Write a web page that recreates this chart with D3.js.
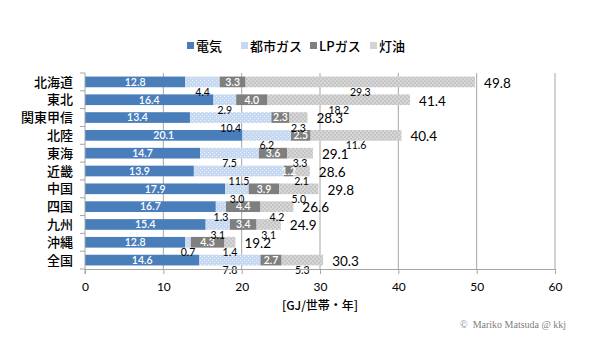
<!DOCTYPE html>
<html><head><meta charset="utf-8">
<script src="https://cdn.jsdelivr.net/npm/d3@7"></script>
<style>body{margin:0;background:#fff}svg{display:block}</style>
</head><body><svg id="c" width="600" height="349"></svg>
<script>
const categories=["北海道","東北","関東甲信","北陸","東海","近畿","中国","四国","九州","沖縄","全国"];
const seriesNames=["電気","都市ガス","LPガス","灯油"];
const electricity=[12.8,16.4,13.4,20.1,14.7,13.9,17.9,16.7,15.4,12.8,14.6];
const cityGas=[4.4,2.9,10.4,6.2,7.5,11.5,3.0,1.3,3.1,0.7,7.8];
const lpGas=[3.3,4.0,2.3,2.5,3.6,1.2,3.9,4.4,3.4,4.3,2.7];
const kerosene=[29.3,18.2,2.3,11.6,3.3,2.1,5.0,4.2,3.1,1.4,5.3];
const totals=[49.8,41.4,28.3,40.4,29.1,28.6,29.8,26.6,24.9,19.2,30.3];
const xTicks=[0,10,20,30,40,50,60];
const axisTitle="[GJ/世帯・年]";
const credit="©  Mariko Matsuda @ kkj";

const svg=d3.select("#c");
const defs=svg.append("defs");
const p1=defs.append("pattern").attr("id","pGas").attr("width",4).attr("height",4).attr("patternUnits","userSpaceOnUse");
p1.append("rect").attr("width",4).attr("height",4).attr("fill","#c6d9f0");
p1.append("rect").attr("x",0).attr("y",0).attr("width",1).attr("height",1).attr("fill","#e8f0fa");
p1.append("rect").attr("x",2).attr("y",2).attr("width",1).attr("height",1).attr("fill","#e8f0fa");
const p2=defs.append("pattern").attr("id","pKer").attr("width",4).attr("height",4).attr("patternUnits","userSpaceOnUse");
p2.append("rect").attr("width",4).attr("height",4).attr("fill","#d6d6d6");
p2.append("rect").attr("x",0).attr("y",0).attr("width",2).attr("height",2).attr("fill","#c6c6c6");
p2.append("rect").attr("x",2).attr("y",2).attr("width",2).attr("height",2).attr("fill","#c6c6c6");

const fills=["#4a7ebb","url(#pGas)","#7f7f7f","url(#pKer)"];
const legendFills=["#4a7ebb","#c6d9f0","#7f7f7f","#d4d4d4"];
const jp="'Noto Sans CJK JP','Noto Sans',sans-serif";
const num="Lato,'Open Sans',sans-serif";

const L=85,R=555,T=73,B=269;
const x=d3.scaleLinear().domain([0,60]).range([L,R]);
const y=d3.scaleBand().domain(categories).range([T,B]).paddingInner(0.4).paddingOuter(0.2);

svg.append("g").selectAll("line").data(xTicks.slice(1)).join("line")
 .attr("x1",d=>x(d)).attr("x2",d=>x(d)).attr("y1",T).attr("y2",B)
 .attr("stroke","#a6a6a6").attr("stroke-width",1);

const data=[electricity,cityGas,lpGas,kerosene];
const rows=categories.map((c,i)=>{let s=0;return data.map((arr,k)=>{const o={c,k,v:arr[i],x0:s,x1:s+arr[i]};s+=arr[i];return o;});});
const flat=rows.flat();
const bw=y.bandwidth();
svg.append("g").selectAll("rect").data(flat).join("rect")
 .attr("x",d=>x(d.x0)).attr("width",d=>x(d.x1)-x(d.x0))
 .attr("y",d=>y(d.c)).attr("height",bw).attr("fill",d=>fills[d.k]);

svg.append("g").selectAll("text").data(flat.filter(d=>d.k===0||d.k===2)).join("text")
 .attr("x",d=>x((d.x0+d.x1)/2)).attr("y",d=>y(d.c)+bw/2).attr("dy","0.36em")
 .attr("text-anchor","middle").attr("fill","#fff").attr("font-family",num).attr("font-size",10.5).attr("font-weight",600)
 .text(d=>d.v.toFixed(1));
svg.append("g").selectAll("text").data(flat.filter(d=>d.k===1||d.k===3)).join("text")
 .attr("x",d=>x((d.x0+d.x1)/2)).attr("y",d=>y(d.c)+bw+5).attr("dy","0.36em")
 .attr("text-anchor","middle").attr("fill","#000").attr("font-family",num).attr("font-size",10.5)
 .text(d=>d.v.toFixed(1));
svg.append("g").selectAll("text").data(categories).join("text")
 .attr("x",(c,i)=>x(rows[i][3].x1)+9).attr("y",c=>y(c)+bw/2+1).attr("dy","0.36em")
 .attr("fill","#000").attr("font-family",num).attr("font-size",13.5)
 .text((c,i)=>totals[i].toFixed(1));

const xa=svg.append("g").attr("transform",`translate(0,${B})`).call(d3.axisBottom(x).tickValues(xTicks).tickSize(5).tickPadding(8));
xa.select(".domain").attr("stroke","#a6a6a6");
xa.selectAll(".tick line").attr("stroke","#a6a6a6");
xa.selectAll("text").attr("font-family",num).attr("font-size",12).attr("fill","#000");
svg.append("line").attr("x1",L).attr("x2",L).attr("y1",T).attr("y2",B+5).attr("stroke","#a6a6a6");
const step=(B-T)/categories.length;
svg.append("g").selectAll("line").data(d3.range(categories.length+1)).join("line")
 .attr("x1",L-5).attr("x2",L).attr("y1",i=>T+i*step).attr("y2",i=>T+i*step).attr("stroke","#a6a6a6");
svg.append("g").selectAll("text").data(categories).join("text")
 .attr("x",L-12).attr("y",c=>y(c)+bw/2).attr("dy","0.36em").attr("text-anchor","end")
 .attr("font-family",jp).attr("font-size",13).attr("font-weight",500).attr("fill","#000").text(c=>c);

svg.append("text").attr("x",(L+R)/2).attr("y",310).attr("text-anchor","middle")
 .attr("font-family",jp).attr("font-size",12).attr("font-weight",500).text(axisTitle);
svg.append("text").attr("x",566).attr("y",328).attr("text-anchor","end").attr("xml:space","preserve")
 .attr("font-family","'Liberation Serif',serif").attr("font-size",10).attr("fill","#808080").text(credit);

const lx=[187,241,310,370];
const lg=svg.append("g").selectAll("g").data(seriesNames).join("g").attr("transform",(d,i)=>`translate(${lx[i]},46)`);
lg.append("rect").attr("x",0).attr("y",-4).attr("width",7).attr("height",7).attr("fill",(d,i)=>legendFills[i]);
lg.append("text").attr("x",9).attr("y",0).attr("dy","0.36em").attr("font-family",jp).attr("font-size",13).attr("font-weight",500).text(d=>d);
</script></body></html>
